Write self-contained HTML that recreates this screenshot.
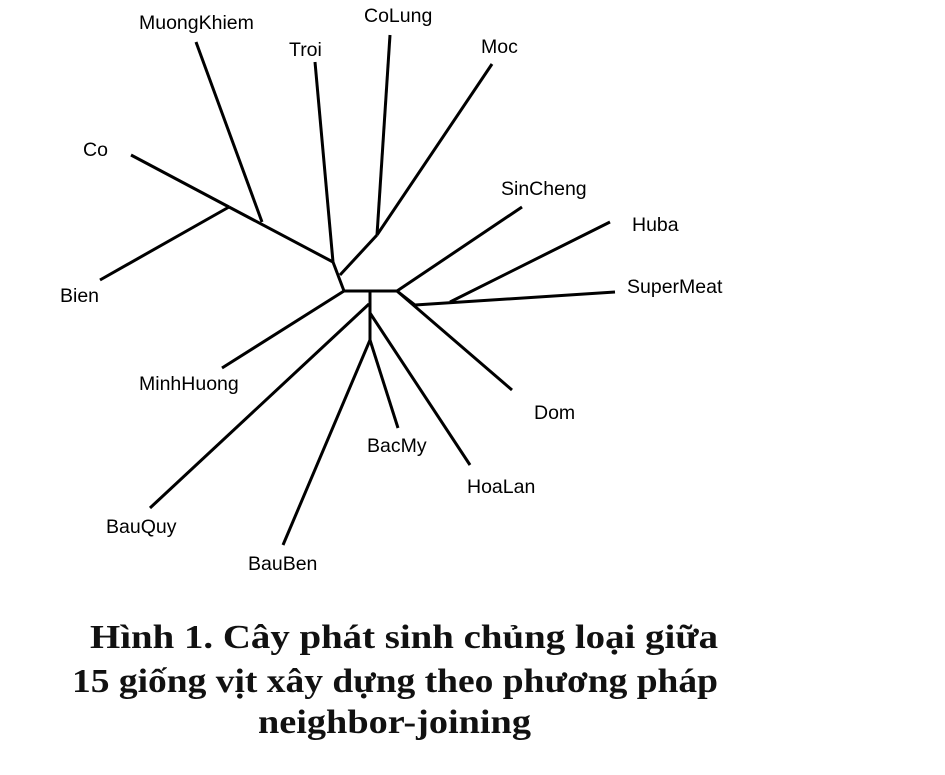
<!DOCTYPE html>
<html><head><meta charset="utf-8"><style>
html,body{margin:0;padding:0;background:#fff;}
svg{display:block;}
</style></head><body>
<svg width="945" height="775" xmlns="http://www.w3.org/2000/svg">
<g stroke="#000" stroke-width="3" fill="none" stroke-linecap="butt">
<line x1="344" y1="291" x2="397" y2="291"/>
<line x1="344" y1="291" x2="333" y2="262"/>
<line x1="333" y1="262" x2="315" y2="62"/>
<line x1="333" y1="262" x2="229" y2="207"/>
<line x1="262" y1="222" x2="196" y2="42"/>
<line x1="229" y1="207" x2="131" y2="155"/>
<line x1="229" y1="207" x2="100" y2="280"/>
<line x1="340" y1="275" x2="377" y2="235"/>
<line x1="377" y1="235" x2="390" y2="35"/>
<line x1="377" y1="235" x2="492" y2="64"/>
<line x1="344" y1="291" x2="222" y2="368"/>
<line x1="370" y1="291" x2="370" y2="340"/>
<line x1="369" y1="304" x2="150" y2="508"/>
<line x1="370" y1="313" x2="470" y2="465"/>
<line x1="370" y1="340" x2="398" y2="428"/>
<line x1="370" y1="340" x2="283" y2="545"/>
<line x1="397" y1="291" x2="522" y2="207"/>
<line x1="397" y1="291" x2="512" y2="390"/>
<line x1="397" y1="291" x2="415" y2="305"/>
<line x1="415" y1="305" x2="615" y2="292"/>
<line x1="450" y1="302" x2="610" y2="222"/>
</g>
<g font-family="Liberation Sans, sans-serif" font-size="19.5" fill="#000">
<text x="139" y="29">MuongKhiem</text>
<text x="289" y="56">Troi</text>
<text x="364" y="22">CoLung</text>
<text x="481" y="53">Moc</text>
<text x="83" y="156">Co</text>
<text x="501" y="195">SinCheng</text>
<text x="632" y="231">Huba</text>
<text x="627" y="293">SuperMeat</text>
<text x="60" y="302">Bien</text>
<text x="139" y="390">MinhHuong</text>
<text x="534" y="419">Dom</text>
<text x="367" y="452">BacMy</text>
<text x="467" y="493">HoaLan</text>
<text x="106" y="533">BauQuy</text>
<text x="248" y="570">BauBen</text>
</g>
<g font-family="Liberation Serif, serif" font-weight="bold" font-size="34" fill="#111">
<text x="90" y="648" textLength="628" lengthAdjust="spacingAndGlyphs">Hình 1. Cây phát sinh chủng loại giữa</text>
<text x="72" y="692" textLength="646" lengthAdjust="spacingAndGlyphs">15 giống vịt xây dựng theo phương pháp</text>
<text x="258" y="733" textLength="273" lengthAdjust="spacingAndGlyphs">neighbor-joining</text>
</g>
</svg>
</body></html>
